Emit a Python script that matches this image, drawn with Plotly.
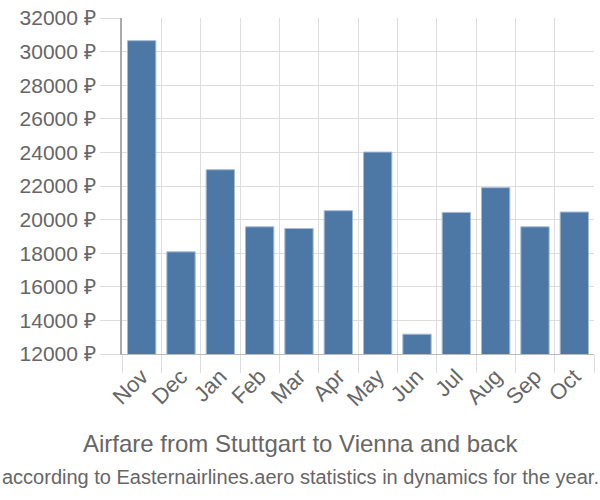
import plotly.graph_objects as go

months = ["Nov", "Dec", "Jan", "Feb", "Mar", "Apr", "May", "Jun", "Jul", "Aug", "Sep", "Oct"]
prices = [30650, 18080, 22970, 19570, 19470, 20530, 24020, 13180, 20430, 21900, 19570, 20450]

title_text = "Airfare from Stuttgart to Vienna and back"
subtitle_text = "according to Easternairlines.aero statistics in dynamics for the year."

fig = go.Figure(go.Bar(
    x=months, y=prices,
    marker=dict(color="#4d78a6", line=dict(color="#a6bbd3", width=1)),
))

fig.update_layout(
    width=600, height=500,
    margin=dict(l=122, r=6, t=14, b=146),
    paper_bgcolor="white", plot_bgcolor="white",
    bargap=0.28,
    showlegend=False,
    font=dict(family="Liberation Sans, Arial, sans-serif", color="#666666"),
    xaxis=dict(
        type="category", tickson="boundaries",
        showgrid=True, gridcolor="#dddddd", gridwidth=1,
        ticks="outside", ticklen=18, tickcolor="#dddddd",
        tickangle=-45, tickfont=dict(size=22, color="#666666"),
        showline=True, linecolor="#bbbbbb", linewidth=1,
    ),
    yaxis=dict(
        range=[12000, 32000], dtick=2000, tickformat="d", ticksuffix=" ₽",
        showgrid=True, gridcolor="#dddddd", gridwidth=1,
        ticks="outside", ticklen=20, tickcolor="#dddddd",
        tickfont=dict(size=21, color="#666666"),
        showline=True, linecolor="#aaaaaa", linewidth=2,
        zeroline=False,
    ),
    annotations=[
        dict(text=title_text, xref="paper", yref="paper",
             x=(300 - 122) / 472, y=(354 - 445) / 340, xanchor="center", yanchor="middle",
             showarrow=False, font=dict(size=24, color="#666666")),
        dict(text=subtitle_text, xref="paper", yref="paper",
             x=(300 - 122) / 472, y=(354 - 478) / 340, xanchor="center", yanchor="middle",
             showarrow=False, font=dict(size=20, color="#666666")),
    ],
)

fig.write_html("out.html")
